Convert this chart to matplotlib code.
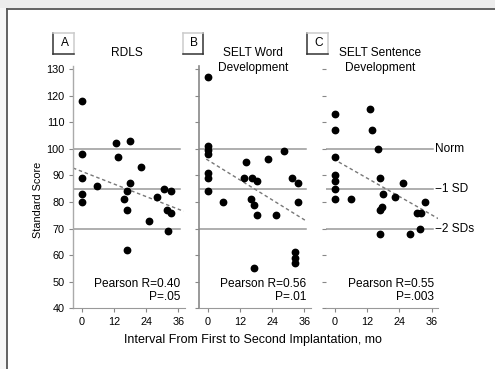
import matplotlib
matplotlib.use("Agg")
import matplotlib.pyplot as plt
import numpy as np
from matplotlib.lines import Line2D
from matplotlib.patches import Rectangle

plt.rcParams['font.family'] = ['Liberation Sans', 'DejaVu Sans']

# ---------------- data ----------------
panel_letters = ["A", "B", "C"]
panel_titles = ["RDLS", "SELT Word\nDevelopment", "SELT Sentence\nDevelopment"]

rdls_x = [0, 0, 0, 0, 0, 5.6, 12.7, 13.7, 18, 22, 18, 16.8, 15.9, 16.8, 16.8, 25.2, 28, 30.8, 33.3, 31.7, 33.3, 32.3]
rdls_y = [118, 98, 89, 83, 80, 86, 102, 97, 103, 93, 87, 84, 81, 77, 62, 73, 82, 85, 84, 77, 76, 69]

word_x = [0, 0, 0, 0, 0, 0, 0, 5.9, 14.3, 13.4, 16.5, 18.4, 16.3, 17.1, 18.4, 25.3, 22.4, 28.4, 31.6, 33.5, 33.5, 17.1, 32.6, 32.6, 32.6]
word_y = [127, 101, 99.5, 98, 91, 89, 84, 80, 95, 89, 89, 88, 81, 79, 75, 75, 96, 99, 89, 87, 80, 55, 61, 59, 57]

sent_x = [0, 0, 0, 0, 0, 0, 0, 5.8, 13, 13.9, 16.1, 16.7, 18, 22.3, 25.2, 17.4, 16.7, 16.7, 27.9, 31.6, 30.6, 32.2, 33.5]
sent_y = [113, 107, 97, 90, 88, 85, 81, 81, 115, 107, 100, 89, 83, 82, 87, 78, 77, 68, 68, 70, 76, 76, 80]

# regression lines: intercept, slope, x-range
fit_intercepts = [91.5, 95.8, 95.8]
fit_slopes = [-0.395, -0.625, -0.574]
fit_ranges = [(-3.2, 38.0), (-0.5, 37.0), (-0.6, 38.8)]

stats_r = ["Pearson R=0.40", "Pearson R=0.56", "Pearson R=0.55"]
stats_p = ["P=.05", "P=.01", "P=.003"]

ref_levels = [100, 85, 70]
ref_labels = ["Norm", "\u22121 SD", "\u22122 SDs"]

y_ticks = [40, 50, 60, 70, 80, 90, 100, 110, 120, 130]
x_ticks = [0, 12, 24, 36]

xs = [rdls_x, word_x, sent_x]
ys = [rdls_y, word_y, sent_y]

# ---------------- figure ----------------
W, H = 495, 369
fig = plt.figure(figsize=(W / 100, H / 100), dpi=100)
fig.patch.set_facecolor('white')

def px_rect(x0, y0, x1, y1):
    return [x0 / W, 1 - y1 / H, (x1 - x0) / W, (y1 - y0) / H]

# screenshot frame
fig.add_artist(Rectangle((0, 1 - 8 / H), 1, 8 / H, transform=fig.transFigure,
                         facecolor='#ececec', edgecolor='none'))
fig.add_artist(Rectangle((0, 0), 7 / W, 1 - 8 / H, transform=fig.transFigure,
                         facecolor='#f6f6f6', edgecolor='none'))
fig.add_artist(Line2D([7 / W, 1], [1 - 8.5 / H, 1 - 8.5 / H], transform=fig.transFigure,
                      color='#555555', lw=1.3))
fig.add_artist(Line2D([7 / W, 7 / W], [0, 1 - 8.5 / H], transform=fig.transFigure,
                      color='#555555', lw=1.3))

lefts = [73, 199, 326.4]
xlim = (-3.2, 38.5)
ylim = (40, 131)
ax_w = 112
top_px, bot_px = 66.3, 308.3
FS = 8.6

spine_cols = ['#aaaaaa', '#888888', '#bbbbbb']
for i in range(3):
    ax = fig.add_axes(px_rect(lefts[i], top_px, lefts[i] + ax_w, bot_px))
    ax.set_xlim(*xlim)
    ax.set_ylim(*ylim)
    for s in ['top', 'right']:
        ax.spines[s].set_visible(False)
    ax.spines['left'].set_color(spine_cols[i])
    ax.spines['bottom'].set_color('#999999')
    ax.spines['left'].set_linewidth(1.2 if i == 1 else 1.0)
    if i == 2:
        ax.spines['left'].set_visible(False)
    ax.set_xticks(x_ticks)
    ax.set_yticks(y_ticks)
    ax.tick_params(axis='both', length=3, width=0.8, color='#888888', labelsize=7.8, pad=3)
    if i > 0:
        ax.set_yticklabels([])
    ax.set_facecolor('none')

    # reference lines
    for lv in ref_levels:
        ax.plot([xlim[0], 36.5], [lv, lv], color='#999999', lw=1.1, zorder=1)

    # regression line
    xr = np.array(fit_ranges[i])
    ax.plot(xr, fit_intercepts[i] + fit_slopes[i] * xr, color='#777777', lw=1.0,
            ls=(0, (2.5, 2)), zorder=2)

    # points
    ax.plot(xs[i], ys[i], 'o', color='black', markersize=4.6, zorder=3, clip_on=False)

    # stats
    ax.text(36.8, 49, stats_r[i], ha='right', va='center', fontsize=FS)
    ax.text(36.8, 44.2, stats_p[i], ha='right', va='center', fontsize=FS)

    if i == 0:
        ax.set_ylabel("Standard Score", fontsize=7.8)
        ax.yaxis.set_label_coords(-0.27, 0.45)

    if i == 2:
        for lv, lab in zip(ref_levels, ref_labels):
            ax.text(37.3, lv, lab, ha='left', va='center', fontsize=FS, clip_on=False)

# titles
title_x = [127, 253, 380]
for i in range(3):
    fig.text(title_x[i] / W, 1 - 47.5 / H, panel_titles[i], ha='center', va='top',
             fontsize=FS, linespacing=1.25)

# panel letter boxes
boxes = [(53, 33, 74, 54), (183, 33, 203, 54), (307, 33, 328, 54)]
dark_edges = [('left', 'bottom'), ('right', 'bottom'), ('left', 'bottom')]
for (x0, y0, x1, y1), letter, dk in zip(boxes, panel_letters, dark_edges):
    edges = {
        'left': ([x0, x0], [y0, y1]),
        'right': ([x1, x1], [y0, y1]),
        'top': ([x0, x1], [y0, y0]),
        'bottom': ([x0, x1], [y1, y1]),
    }
    for name, (ex, ey) in edges.items():
        col = '#333333' if name in dk else '#cccccc'
        fig.add_artist(Line2D([e / W for e in ex], [1 - e / H for e in ey],
                              transform=fig.transFigure, color=col, lw=1.1))
    fig.text(((x0 + x1) / 2 + 1) / W, 1 - ((y0 + y1) / 2) / H, letter, ha='center',
             va='center', fontsize=FS)

fig.text(253 / W, 1 - 340 / H, "Interval From First to Second Implantation, mo",
         ha='center', va='center', fontsize=9)

fig.savefig("out.png", dpi=100)
